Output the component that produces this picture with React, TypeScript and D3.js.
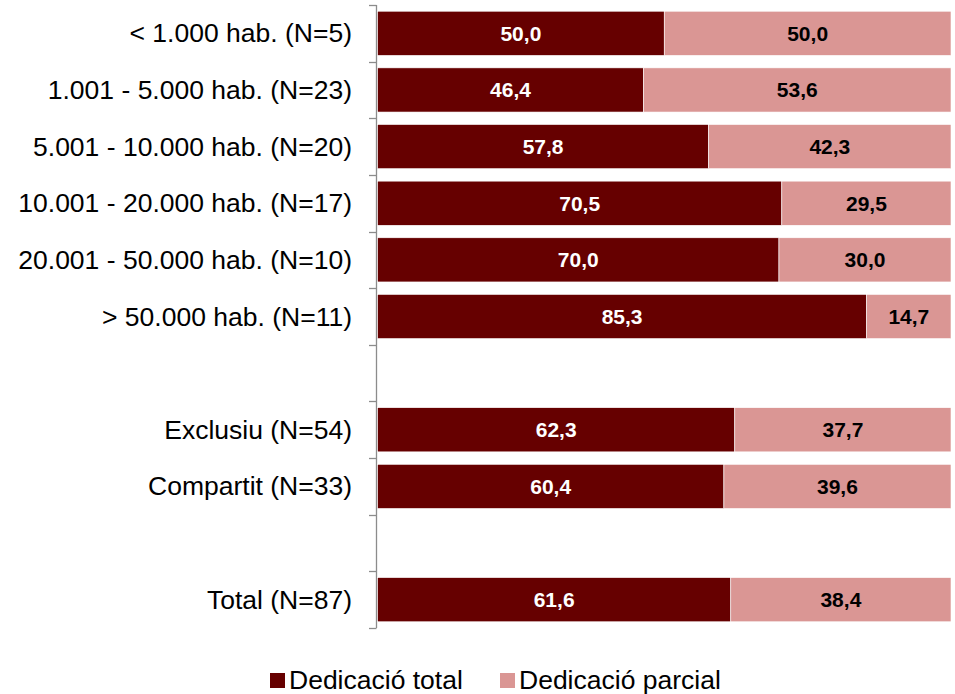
import React from "react";
import * as d3 from "d3";

const categories = [
  "< 1.000 hab. (N=5)",
  "1.001 - 5.000 hab. (N=23)",
  "5.001 - 10.000 hab. (N=20)",
  "10.001 - 20.000 hab. (N=17)",
  "20.001 - 50.000 hab. (N=10)",
  "> 50.000 hab. (N=11)",
  "",
  "Exclusiu (N=54)",
  "Compartit (N=33)",
  "",
  "Total (N=87)",
];
const totalValues: (number | null)[] = [50.0, 46.4, 57.8, 70.5, 70.0, 85.3, null, 62.3, 60.4, null, 61.6];
const partialValues: (number | null)[] = [50.0, 53.6, 42.3, 29.5, 30.0, 14.7, null, 37.7, 39.6, null, 38.4];
const seriesNames = ["Dedicació total", "Dedicació parcial"];
const colors = ["#660000", "#DA9694"];

const W = 955;
const H = 694;
const FONT = "'Liberation Sans', Arial, sans-serif";

export default function App() {
  const keys = categories.map((c, i) => `${i}|${c}`);
  const y = d3.scaleBand<string>().domain(keys).range([5, 628]).paddingInner(0.22).paddingOuter(0.11);
  const x = d3.scaleLinear().domain([0, 1]).range([377.5, 951]);
  const step = y.step();
  const fmt = (v: number) => v.toFixed(1).replace(".", ",");

  const tickYs = d3.range(categories.length + 1).map((i) => 5 + i * step);

  return (
    <svg width={W} height={H} style={{ position: "absolute", left: 0, top: 0, background: "#fff" }}>
      {/* axis */}
      <line x1={376.5} x2={376.5} y1={5} y2={628} stroke="#8c8c8c" strokeWidth={1.3} />
      {tickYs.map((t, i) => (
        <line key={i} x1={369} x2={376.5} y1={Math.round(t) + 0.5} y2={Math.round(t) + 0.5} stroke="#8c8c8c" strokeWidth={1.3} />
      ))}
      {keys.map((k, i) => {
        const tv = totalValues[i];
        const pv = partialValues[i];
        const yc = (y(k) as number) + y.bandwidth() / 2;
        const label = categories[i];
        const els: React.ReactNode[] = [];
        if (label) {
          els.push(
            <text key="l" x={352} y={yc} textAnchor="end" dominantBaseline="central" fontFamily={FONT} fontSize={26.5} fill="#000">
              {label}
            </text>
          );
        }
        if (tv != null && pv != null) {
          const sum = tv + pv;
          const x0 = x(0);
          const x1 = x(tv / sum);
          const x2 = x(1);
          els.push(
            <rect key="a" x={x0} y={y(k)} width={x1 - x0} height={y.bandwidth()} fill={colors[0]} stroke="#fff" strokeWidth={0.6} />,
            <rect key="b" x={x1} y={y(k)} width={x2 - x1} height={y.bandwidth()} fill={colors[1]} stroke="#fff" strokeWidth={0.6} />,
            <text key="ta" x={(x0 + x1) / 2} y={yc} textAnchor="middle" dominantBaseline="central" fontFamily={FONT} fontWeight="bold" fontSize={21} fill="#fff">
              {fmt(tv)}
            </text>,
            <text key="tb" x={(x1 + x2) / 2} y={yc} textAnchor="middle" dominantBaseline="central" fontFamily={FONT} fontWeight="bold" fontSize={21} fill="#000">
              {fmt(pv)}
            </text>
          );
        }
        return <g key={k}>{els}</g>;
      })}
      {/* legend */}
      {seriesNames.map((s, i) => {
        const lx = i === 0 ? 270 : 500;
        return (
          <g key={s}>
            <rect x={lx} y={673} width={15} height={15} fill={colors[i]} />
            <text x={lx + 19} y={689} fontFamily={FONT} fontSize={26.5} fill="#000">
              {s}
            </text>
          </g>
        );
      })}
    </svg>
  );
}
